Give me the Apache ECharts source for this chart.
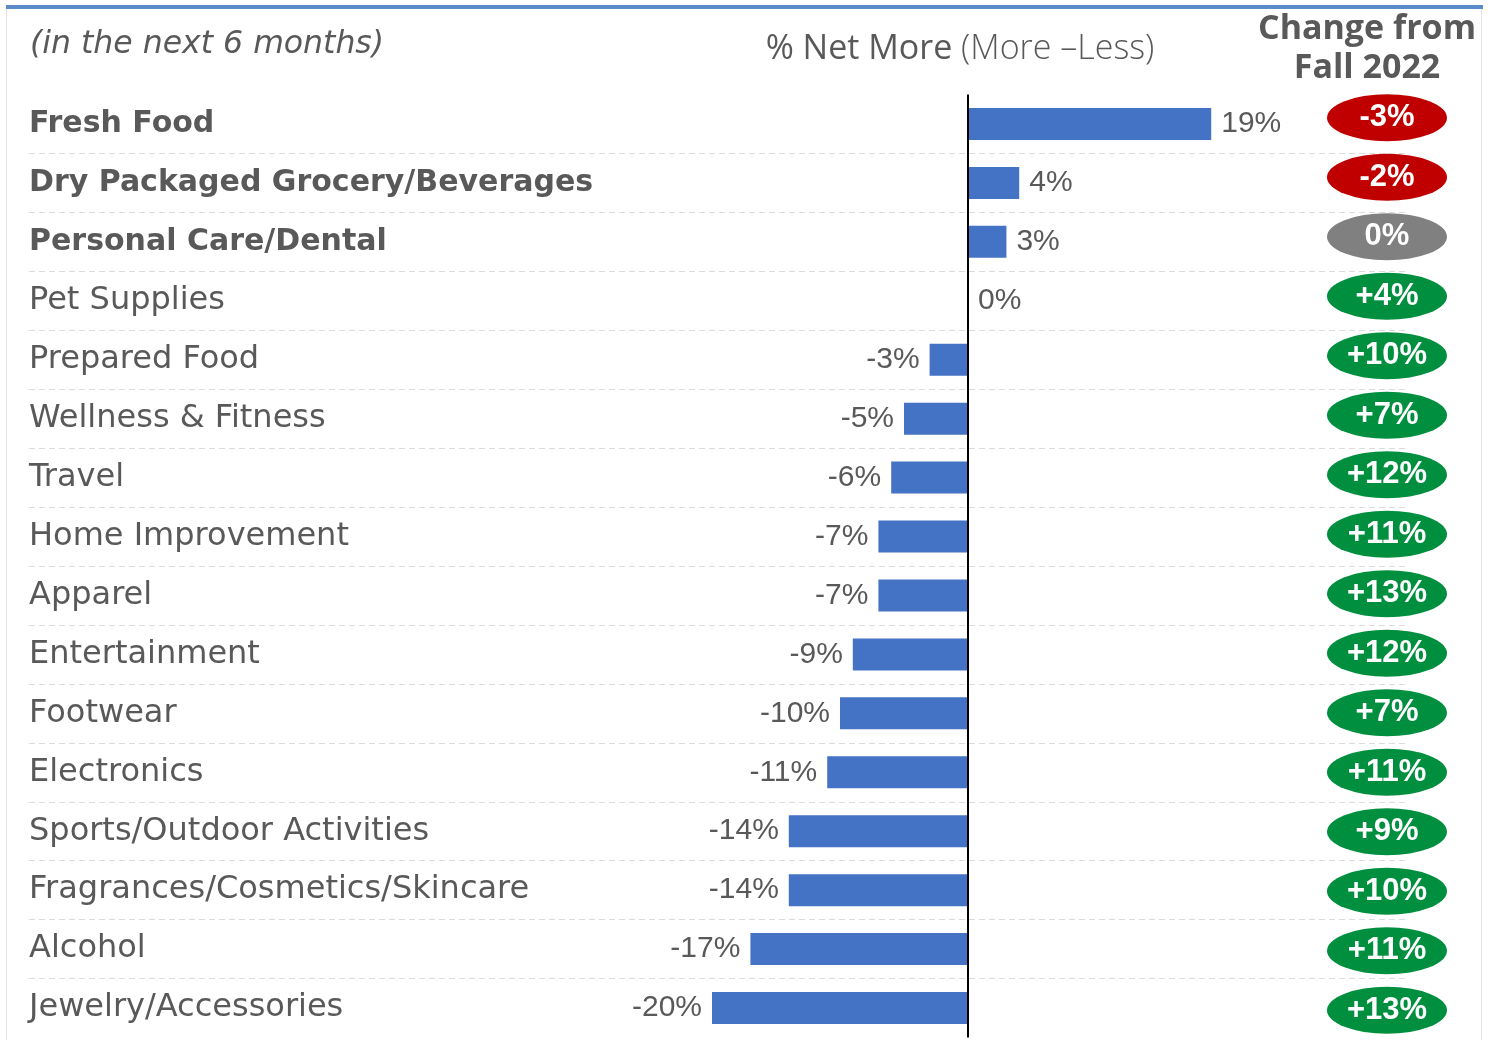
<!DOCTYPE html>
<html>
<head>
<meta charset="utf-8">
<script src="https://cdn.jsdelivr.net/npm/echarts@6/dist/echarts.min.js"></script>
<style>html,body{margin:0;padding:0;background:#fff}#c{width:1493px;height:1040px}</style>
</head>
<body>
<div id="c"></div>
<script>
const categories = ["Fresh Food","Dry Packaged Grocery/Beverages","Personal Care/Dental","Pet Supplies","Prepared Food","Wellness & Fitness","Travel","Home Improvement","Apparel","Entertainment","Footwear","Electronics","Sports/Outdoor Activities","Fragrances/Cosmetics/Skincare","Alcohol","Jewelry/Accessories"];
const boldCount = 3;
const netMore = [19,4,3,0,-3,-5,-6,-7,-7,-9,-10,-11,-14,-14,-17,-20];
const changeFromFall2022 = [-3,-2,0,4,10,7,12,11,13,12,7,11,9,10,11,13];

const TXT = '#595959';
const chart = echarts.init(document.getElementById('c'), null, {renderer:'canvas'});

const yData = categories.map((c,i)=>({value:c, textStyle: i<boldCount ? {fontWeight:'bold', fontSize:30} : {fontWeight:'normal', fontSize:32}}));
const barData = netMore.map(v=>({value:v, label:{position: v<0?'left':'right'}}));
const badgeData = changeFromFall2022.map((v,i)=>({
  value:[0,i],
  itemStyle:{color: v<0?'#C00000':(v===0?'#808080':'#008F3E'), opacity:1}
}));

chart.setOption({
  animation:false,
  graphic:[
    {type:'rect', shape:{x:6,y:5,width:1477,height:4}, style:{fill:'#5B8BC9'}},
    {type:'line', shape:{x1:6.5,y1:9,x2:6.5,y2:1040}, style:{stroke:'#e3e3e3',lineWidth:1}},
    {type:'line', shape:{x1:1481.5,y1:9,x2:1481.5,y2:1040}, style:{stroke:'#e3e3e3',lineWidth:1}},
    {type:'text', style:{x:30,y:45,text:'(in the next 6 months)',fontFamily:'DejaVu Sans',fontStyle:'italic',fontSize:31.5,fill:TXT,align:'left',verticalAlign:'middle'}},
    {type:'text', style:{x:960,y:49,text:'{a|% Net More}{b| (More \u2013Less)}',align:'center',verticalAlign:'middle',
      rich:{a:{fontFamily:'Open Sans',fontSize:34,fontWeight:500,fill:TXT,color:TXT},b:{fontFamily:'Open Sans',fontSize:34,fontWeight:300,fill:TXT,color:TXT}}}},
    {type:'text', style:{x:1367,y:49,text:'Change from\nFall 2022',fontFamily:'Open Sans',fontWeight:'bold',fontSize:34,lineHeight:39,fill:TXT,align:'center',verticalAlign:'middle'}}
  ],
  grid:[
    {left:29, right:88, top:94.5, height:943, containLabel:false},
    {left:1327, width:120, top:88, height:954, containLabel:false}
  ],
  xAxis:[
    {type:'value', gridIndex:0, min:-73.36, max:34.14, show:false},
    {type:'value', gridIndex:1, min:-1, max:1, show:false}
  ],
  yAxis:[
    {type:'category', gridIndex:0, inverse:true, data:yData,
      axisLine:{show:false}, axisTick:{show:false},
      axisLabel:{inside:true, margin:0, fontFamily:'DejaVu Sans', fontSize:32, color:TXT},
      splitLine:{show:true, showMinLine:false, showMaxLine:false, lineStyle:{color:'#dcdcdc', type:[6,4], width:1}}
    },
    {type:'category', gridIndex:1, inverse:true, data:categories, show:false}
  ],
  series:[
    {type:'bar', xAxisIndex:0, yAxisIndex:0, data:barData, barWidth:32,
      itemStyle:{color:'#4472C4'},
      label:{show:true, distance:10, formatter:p=>p.value+'%', fontFamily:'Liberation Sans', fontSize:30, color:TXT},
      markLine:{silent:true, symbol:'none', label:{show:false}, lineStyle:{color:'#000', type:'solid', width:2}, data:[{xAxis:0}]}
    },
    {type:'scatter', xAxisIndex:1, yAxisIndex:1, data:badgeData, symbol:'circle', symbolSize:[120,47],
      itemStyle:{opacity:1},
      label:{show:true, position:'inside', formatter:p=>{const v=changeFromFall2022[p.dataIndex];return (v>0?'+':'')+v+'%';},
        fontFamily:'Liberation Sans', fontWeight:'bold', fontSize:31, color:'#fff'}
    }
  ]
});
</script>
</body>
</html>
